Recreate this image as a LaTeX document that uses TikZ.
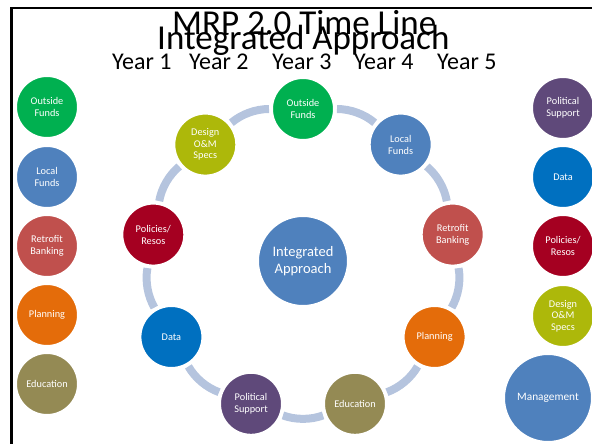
\documentclass[tikz,border=0pt]{standalone}
\usepackage{fontspec}
\setmainfont{Carlito}
\usetikzlibrary{backgrounds}
\definecolor{cgreen}{HTML}{00B050}
\definecolor{cblue}{HTML}{4F81BD}
\definecolor{cred}{HTML}{C0504D}
\definecolor{corange}{HTML}{E46C0A}
\definecolor{colive}{HTML}{948A54}
\definecolor{cpurple}{HTML}{5F497A}
\definecolor{cdata}{HTML}{0070C0}
\definecolor{cdarkred}{HTML}{A50021}
\definecolor{clime}{HTML}{ADB80A}
\definecolor{arcblue}{HTML}{B5C4DE}
\begin{document}
\begin{tikzpicture}[x=1pt,y=-1pt,
  bub/.style={circle, fill=#1, draw=white, line width=2pt, minimum size=62pt,
    inner sep=0pt, text=white, align=center, font=\fontsize{10.3}{12}\selectfont},
  bigbub/.style={bub=#1, minimum size=90pt},
  ringarc/.style={draw=arcblue, line width=8pt, bend left=20, looseness=0.9,
    shorten <=2pt, shorten >=2pt},
  ttl/.style={anchor=base west, inner sep=0pt, font=\fontsize{35}{40}\selectfont},
  yr/.style={anchor=base west, inner sep=0pt, font=\fontsize{24}{28}\selectfont}]
\useasboundingbox (0,0) rectangle (592,444);
\draw[line width=2.5pt] (592,8) -- (11.3,8) -- (11.3,444);

% titles
\node[ttl] (t1) at (172,35) {MRP 2.0 Time Line};
\node[ttl] (t2) at (157,50) {Integrated Approach};
\node[yr] (y1) at (112,70) {Year 1};
\node[yr] (y2) at (189,70) {Year 2};
\node[yr] (y3) at (272,70) {Year 3};
\node[yr] (y4) at (354,70) {Year 4};
\node[yr] (y5) at (437,70) {Year 5};

% left column
\node[bub=cgreen] (l1) at (47,107) {Outside\\Funds};
\node[bub=cblue] (l2) at (47,177) {Local\\Funds};
\node[bub=cred] (l3) at (47,246) {Retrofit\\Banking};
\node[bub=corange] (l4) at (47,315) {Planning};
\node[bub=colive] (l5) at (47,384) {Education};

% right column
\node[bub=cpurple] (r1) at (563,108) {Political\\Support};
\node[bub=cdata] (r2) at (563,177) {Data};
\node[bub=cdarkred] (r3) at (563,246) {Policies/\\Resos};
\node[bub=clime, font=\fontsize{10.3}{11.5}\selectfont] (r4) at (563,316) {Design\\O\&M\\Specs};
\node[bub=cblue, minimum size=88pt, font=\fontsize{11.3}{13}\selectfont] (r5) at (548,398) {Management};

% centre
\node[bigbub=cblue, font=\fontsize{14.5}{17}\selectfont] (c) at (303,261) {Integrated\\Approach};

% ring
\node[bub=cgreen] (o1) at (303,109) {Outside\\Funds};
\node[bub=cblue] (o2) at (400.7,144.6) {Local\\Funds};
\node[bub=cred] (o3) at (452.7,234.6) {Retrofit\\Banking};
\node[bub=corange] (o4) at (434.6,337) {Planning};
\node[bub=colive] (o5) at (355,403.8) {Education};
\node[bub=cpurple] (o6) at (251,403.8) {Political\\Support};
\node[bub=cdata] (o7) at (171.4,337) {Data};
\node[bub=cdarkred] (o8) at (153.3,234.6) {Policies/\\Resos};
\node[bub=clime, font=\fontsize{10.3}{11.5}\selectfont] (o9) at (205.3,144.6) {Design\\O\&M\\Specs};

\begin{pgfonlayer}{background}
\draw[ringarc] (o1) to (o2);
\draw[ringarc] (o2) to (o3);
\draw[ringarc] (o3) to (o4);
\draw[ringarc] (o4) to (o5);
\draw[ringarc] (o5) to (o6);
\draw[ringarc] (o6) to (o7);
\draw[ringarc] (o7) to (o8);
\draw[ringarc] (o8) to (o9);
\draw[ringarc] (o9) to (o1);
\end{pgfonlayer}
\end{tikzpicture}
\end{document}
